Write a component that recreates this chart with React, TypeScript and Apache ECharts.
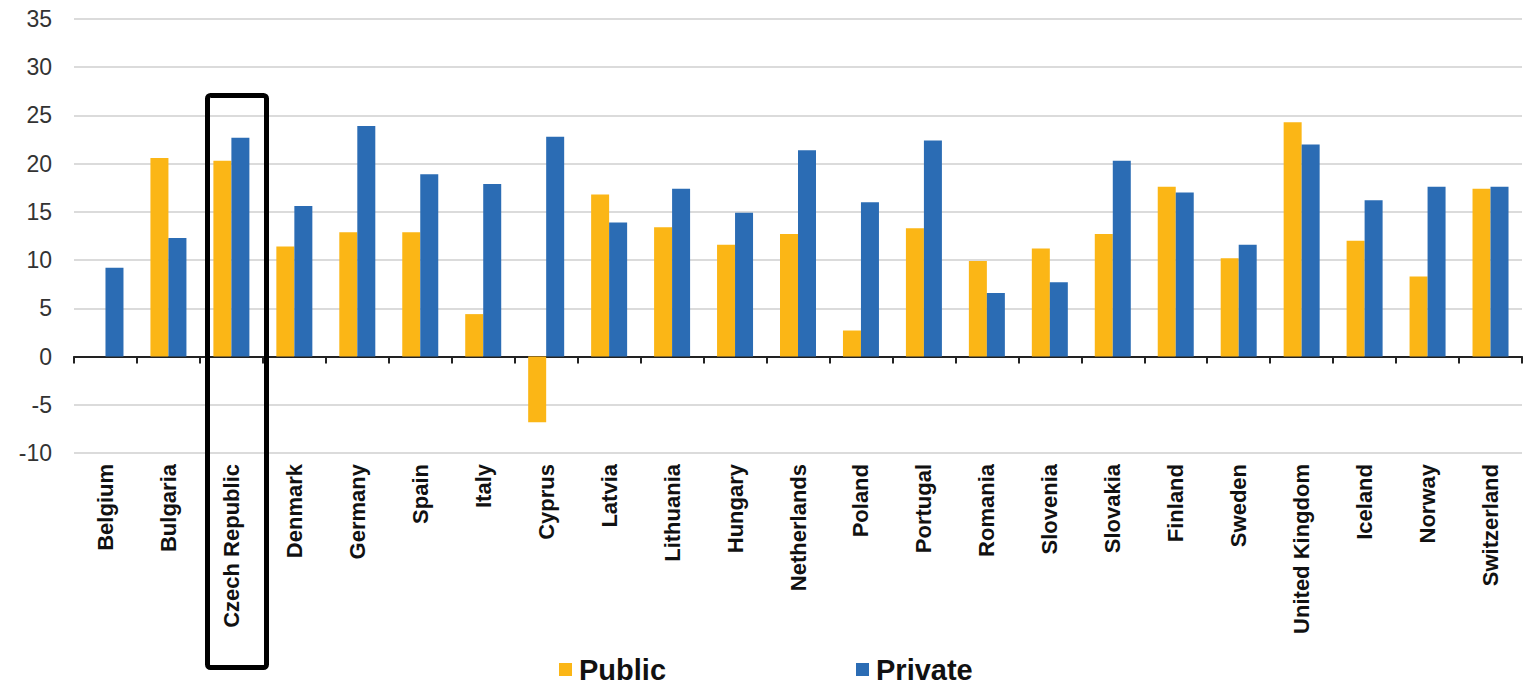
import React, { useEffect, useRef } from "react";
import * as echarts from "echarts";

const categories = [
  "Belgium", "Bulgaria", "Czech Republic", "Denmark", "Germany", "Spain", "Italy",
  "Cyprus", "Latvia", "Lithuania", "Hungary", "Netherlands", "Poland", "Portugal",
  "Romania", "Slovenia", "Slovakia", "Finland", "Sweden", "United Kingdom",
  "Iceland", "Norway", "Switzerland",
];

const publicValues: (number | null)[] = [
  null, 20.6, 20.3, 11.4, 12.9, 12.9, 4.4, -6.8, 16.8, 13.4, 11.6, 12.7, 2.7, 13.3,
  9.9, 11.2, 12.7, 17.6, 10.2, 24.3, 12.0, 8.3, 17.4,
];

const privateValues: number[] = [
  9.2, 12.3, 22.7, 15.6, 23.9, 18.9, 17.9, 22.8, 13.9, 17.4, 14.9, 21.4, 16.0, 22.4,
  6.6, 7.7, 20.3, 17.0, 11.6, 22.0, 16.2, 17.6, 17.6,
];

const yTicks = { min: -10, max: 35, interval: 5 };

export default function App() {
  const ref = useRef<HTMLDivElement>(null);

  useEffect(() => {
    if (!ref.current) return;
    const chart = echarts.init(ref.current, null, { renderer: "svg" });
    const font = "Liberation Sans, Arial, Helvetica, sans-serif";
    chart.setOption({
      animation: false,
      backgroundColor: "#ffffff",
      textStyle: { fontFamily: font },
      grid: { left: 74, right: 4, top: 19, bottom: 232, containLabel: false },
      legend: {
        left: 554,
        top: 650,
        itemWidth: 13,
        itemHeight: 13,
        itemGap: 190,
        icon: "rect",
        textStyle: { fontSize: 29, fontWeight: "bold", color: "#111", fontFamily: font, padding: [0, 0, 0, 2] },
        data: ["Public", "Private"],
      },
      xAxis: [
        {
          type: "category",
          data: categories,
          position: "bottom",
          axisLine: { show: false, onZero: false },
          axisTick: { show: false },
          axisLabel: {
            rotate: 90,
            interval: 0,
            margin: 11,
            fontSize: 22,
            fontWeight: "bold",
            color: "#111",
            fontFamily: font,
          },
        },
        {
          type: "category",
          data: categories,
          position: "bottom",
          axisLine: { show: true, onZero: true, lineStyle: { color: "#222", width: 2 } },
          axisTick: { show: true, length: 7, interval: 0, lineStyle: { color: "#222", width: 2 } },
          axisLabel: { show: false },
        },
      ],
      yAxis: {
        type: "value",
        min: yTicks.min,
        max: yTicks.max,
        interval: yTicks.interval,
        axisLine: { show: false },
        axisTick: { show: false },
        axisLabel: { fontSize: 23, color: "#333", margin: 22, fontFamily: font },
        splitLine: { lineStyle: { color: "#cfcfcf", width: 1.5 } },
      },
      series: [
        {
          name: "Public",
          type: "bar",
          xAxisIndex: 0,
          data: publicValues,
          barWidth: 18,
          barGap: "0%",
          itemStyle: { color: "#FBB616" },
        },
        {
          name: "Private",
          type: "bar",
          xAxisIndex: 0,
          data: privateValues,
          barWidth: 18,
          barGap: "0%",
          itemStyle: { color: "#2B6CB4" },
        },
      ],
      graphic: [
        {
          type: "rect",
          z: 100,
          shape: { x: 207.5, y: 95.5, width: 59, height: 572, r: 3 },
          style: { fill: "none", stroke: "#000", lineWidth: 5 },
        },
      ],
    });
    return () => chart.dispose();
  }, []);

  return (
    <div
      ref={ref}
      style={{ position: "fixed", left: 0, top: 0, width: 1526, height: 685, background: "#fff" }}
    />
  );
}
